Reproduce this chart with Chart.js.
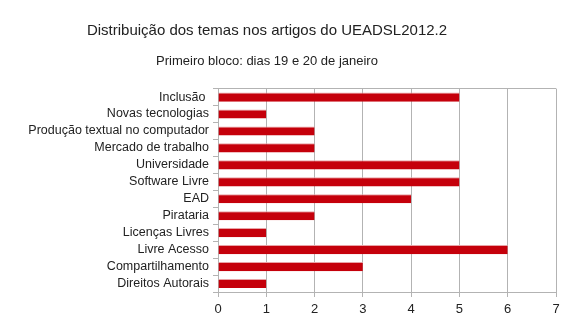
<!DOCTYPE html>
<html>
<head>
<meta charset="utf-8">
<script src="https://cdn.jsdelivr.net/npm/chart.js@4.4.1/dist/chart.umd.min.js"></script>
<style>
  html, body { margin: 0; padding: 0; background: #ffffff; }
  #wrap { width: 570px; height: 333px; position: relative; }
</style>
</head>
<body>
<div id="wrap"><canvas id="c"></canvas></div>
<script>
// Themes and how many papers covered each one
const themes = [
  "Inclusão ",
  "Novas tecnologias",
  "Produção textual no computador",
  "Mercado de trabalho",
  "Universidade",
  "Software Livre",
  "EAD",
  "Pirataria",
  "Licenças Livres",
  "Livre Acesso",
  "Compartilhamento",
  "Direitos Autorais"
];
const articleCounts = [5, 1, 2, 2, 5, 5, 4, 2, 1, 6, 3, 1];
const xTickValues = [0, 1, 2, 3, 4, 5, 6, 7];

const titleText = "Distribuição dos temas nos artigos do UEADSL2012.2";
const subtitleText = "Primeiro bloco: dias 19 e 20 de janeiro";

const gridGray = "#b3b3b3";
const barRed = "#c5000b";
const textColor = "#222222";
const fontFamily = "'Liberation Sans', Arial, sans-serif";

// Centre the heading lines a little left of the canvas middle
const headingShift = {
  id: "headingShift",
  afterLayout(chart) {
    chart.boxes.forEach(box => {
      const t = box.options && box.options.text;
      if (t === titleText || t === subtitleText) {
        box.left = -22;
        box.right = chart.width - 14;
      }
    });
  }
};

new Chart(document.getElementById("c"), {
  type: "bar",
  data: {
    labels: themes,
    datasets: [{
      data: articleCounts,
      backgroundColor: barRed,
      borderColor: "#e9a3a6",
      borderWidth: { top: 1, left: 0, right: 0, bottom: 0 },
      borderSkipped: false,
      barPercentage: 0.54,
      categoryPercentage: 1.0
    }]
  },
  plugins: [headingShift],
  options: {
    indexAxis: "y",
    responsive: true,
    maintainAspectRatio: false,
    animation: false,
    layout: { padding: { left: 0, right: 14, top: 0, bottom: 0 } },
    plugins: {
      legend: { display: false },
      tooltip: { enabled: false },
      title: {
        display: true,
        text: titleText,
        color: textColor,
        font: { family: fontFamily, size: 15, weight: "normal" },
        padding: { top: 22, bottom: 14 }
      },
      subtitle: {
        display: true,
        text: subtitleText,
        color: textColor,
        font: { family: fontFamily, size: 13, weight: "normal" },
        padding: { top: 0, bottom: 19 }
      }
    },
    scales: {
      x: {
        type: "linear",
        min: 0,
        max: 7,
        afterBuildTicks: (scale) => {
          scale.ticks = xTickValues.map(v => ({ value: v }));
        },
        afterFit: (scale) => { scale.height = 41; },
        grid: {
          color: gridGray,
          tickColor: gridGray,
          tickLength: 5,
          lineWidth: 1
        },
        border: { display: true, color: gridGray },
        ticks: {
          color: textColor,
          padding: 5,
          font: { family: fontFamily, size: 13 }
        }
      },
      y: {
        afterFit: (scale) => { scale.width = 218; },
        grid: {
          offset: true,
          color: (ctx) => ctx.index === 0 ? gridGray : "rgba(0,0,0,0)",
          tickColor: gridGray,
          tickLength: 5,
          drawOnChartArea: true
        },
        border: { display: true, color: gridGray },
        ticks: {
          autoSkip: false,
          color: textColor,
          padding: 4,
          font: { family: fontFamily, size: 12.5 }
        }
      }
    }
  }
});
</script>
</body>
</html>
